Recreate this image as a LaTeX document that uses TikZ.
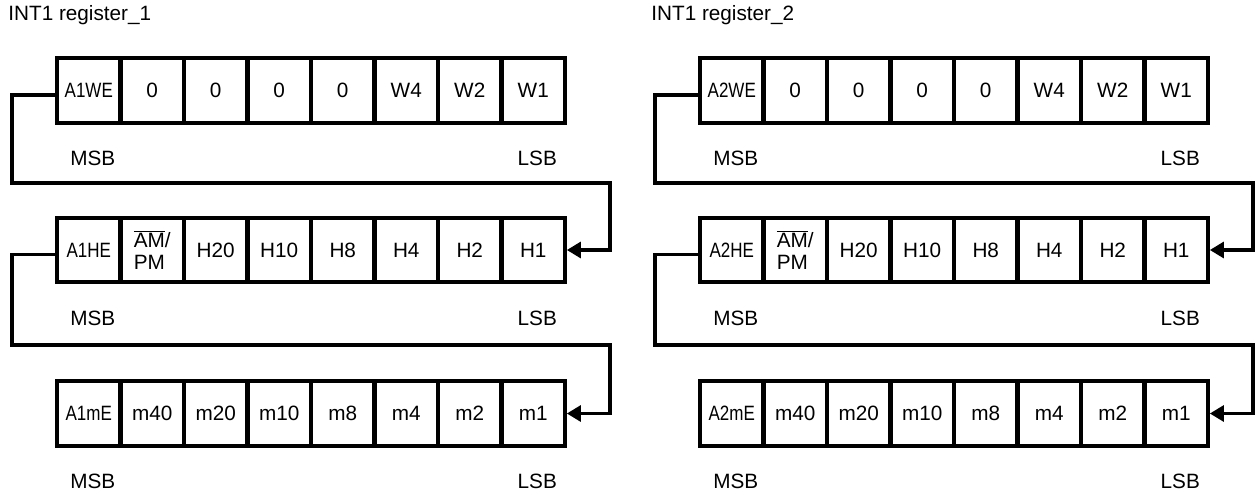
\documentclass[tikz,border=0pt]{standalone}
\usepackage{fontspec}
\setmainfont{Liberation Sans}
\usepackage{graphicx}
\usetikzlibrary{arrows.meta}
\usetikzlibrary{calc}

\newcommand\nar[1]{\scalebox{0.82}[1]{#1}}

\tikzset{
  cell/.style={draw, line width=2.2pt, minimum width=36pt, minimum height=36.8pt, inner sep=0pt, align=left, font=\fontsize{11.8}{12.5}\selectfont},
  lbl/.style={inner sep=0pt, font=\fontsize{11.8}{13}\selectfont},
  link/.style={line width=2.1pt, -{Triangle[length=8pt,width=9pt]}}
}

\begin{document}
\begin{tikzpicture}[x=0.02cm, y=-0.02cm]
\useasboundingbox (0,0) rectangle (1258,494);

\foreach \g/\off in {1/0, 2/643} {
  \node[lbl, anchor=west] (t\g) at (8+\off,15) {INT1 register\_\g};

  % register rows
  \foreach \lab [count=\i] in {{\nar{A\g WE}},0,0,0,0,W4,W2,W1}
    \node[cell] (c\g-1-\i) at (25.25+\off+63.5*\i, 90.5) {\lab};
  \foreach \lab [count=\i] in {{\nar{A\g HE}},{$\overline{\hbox{AM}}$/\\PM},H20,H10,H8,H4,H2,H1}
    \node[cell] (c\g-2-\i) at (25.25+\off+63.5*\i, 250) {\lab};
  \foreach \lab [count=\i] in {{\nar{A\g mE}},m40,m20,m10,m8,m4,m2,m1}
    \node[cell] (c\g-3-\i) at (25.25+\off+63.5*\i, 413.5) {\lab};

  \foreach \r in {1,2,3} {
    \node[lbl] (m\g-\r) at ([shift={(4,34)}]c\g-\r-1.south) {MSB};
    \node[lbl] (l\g-\r) at ([shift={(4,34)}]c\g-\r-8.south) {LSB};
  }

  % connectors
  \coordinate (p\g-1) at (12+\off,183);
  \coordinate (q\g-1) at (610+\off,183);
  \coordinate (p\g-2) at (12+\off,345);
  \coordinate (q\g-2) at (610+\off,345);
  \draw[link] ([yshift=-2.5pt]c\g-1-1.west) -| (p\g-1) -- (q\g-1) |- (c\g-2-8.east);
  \draw[link] ([yshift=-2.5pt]c\g-2-1.west) -| (p\g-2) -- (q\g-2) |- (c\g-3-8.east);
}
\end{tikzpicture}
\end{document}
